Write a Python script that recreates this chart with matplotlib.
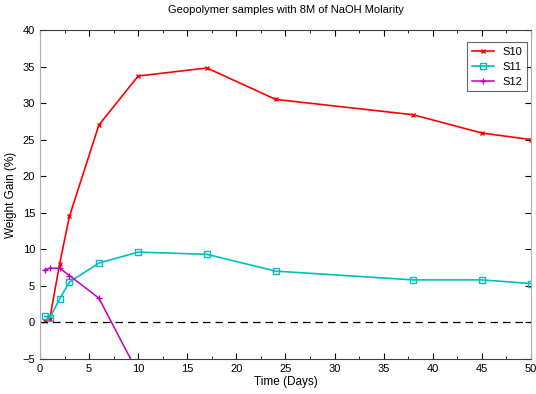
import matplotlib
matplotlib.use("Agg")
import matplotlib.pyplot as plt
from matplotlib.ticker import MultipleLocator

plt.rcParams['font.family'] = ['Liberation Sans', 'DejaVu Sans']

# Time in days
days = [0.5, 1, 2, 3, 6, 10, 17, 24, 38, 45, 50]
s10 = [0.2, 0.5, 8.0, 14.5, 27.0, 33.7, 34.8, 30.5, 28.4, 25.9, 25.0]
s11 = [0.8, 0.6, 3.2, 5.5, 8.1, 9.6, 9.3, 7.0, 5.8, 5.8, 5.3]
days_s12 = [0.5, 1, 2, 3, 6, 10]
s12 = [7.2, 7.4, 7.4, 6.4, 3.3, -7.0]

fig = plt.figure(figsize=(5.36, 3.94), dpi=100)
ax = fig.add_axes([0.0746, 0.0893, 0.9160, 0.8346])

ax.plot(days, s10, color='red', marker='x', markersize=3.5, linewidth=1.2, label='S10')
ax.plot(days, s11, color=(0, 0.75, 0.75), marker='s', markersize=4,
        markerfacecolor='none', linewidth=1.2, label='S11')
ax.plot(days_s12, s12, color='m', marker='+', markersize=5, linewidth=1.1, label='S12')
ax.axhline(0, color='black', linestyle=(0, (6, 4)), linewidth=0.9)

ax.set_xlim(0, 50)
ax.set_ylim(-5, 40)
ax.xaxis.set_major_locator(MultipleLocator(5))
ax.xaxis.set_minor_locator(MultipleLocator(2.5))
ax.yaxis.set_major_locator(MultipleLocator(5))
ax.tick_params(which='both', direction='in', top=True, right=True, labelsize=8)
ax.tick_params(which='major', length=4)
ax.tick_params(which='minor', length=2)

for side in ['left', 'right']:
    ax.spines[side].set_color('#b0b0b0')
for side in ['top', 'bottom']:
    ax.spines[side].set_color('#404040')

ax.set_title('Geopolymer samples with 8M of NaOH Molarity', fontsize=8, pad=12)
ax.set_xlabel('Time (Days)', fontsize=8.5, labelpad=2)
ax.set_ylabel('Weight Gain (%)', fontsize=8.5)

leg = ax.legend(loc='upper right', bbox_to_anchor=(0.992, 0.963), borderaxespad=0,
                fontsize=8, fancybox=False, edgecolor='#404040',
                handlelength=2.0, labelspacing=0.45)
leg.get_frame().set_linewidth(0.8)

fig.savefig('out.png', dpi=100)
